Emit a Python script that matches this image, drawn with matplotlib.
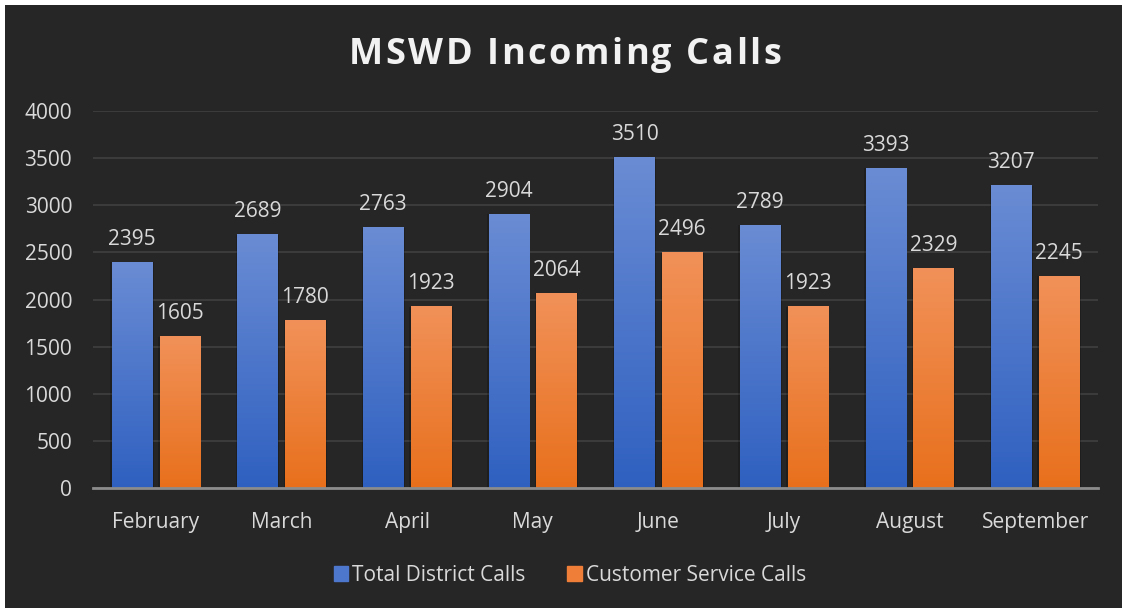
import numpy as np
import matplotlib
matplotlib.use('Agg')
from matplotlib import pyplot as plt
from matplotlib.patches import Rectangle, Patch

months = ['February', 'March', 'April', 'May', 'June', 'July', 'August', 'September']
total_calls = [2395, 2689, 2763, 2904, 3510, 2789, 3393, 3207]
service_calls = [1605, 1780, 1923, 2064, 2496, 1923, 2329, 2245]
yticks = [0, 500, 1000, 1500, 2000, 2500, 3000, 3500, 4000]
title = 'MSWD Incoming Calls'

plt.rcParams['font.family'] = ['Open Sans', 'DejaVu Sans']

bg = '#262626'
txt = '#d9d9d9'
blue_top, blue_bot = '#6a8cd4', '#2f60c0'
orange_top, orange_bot = '#f19159', '#e8701c'

fig = plt.figure(figsize=(11.22, 6.08), dpi=100, facecolor='white')
# dark chart panel with thin white margin top/left
fig.patches.append(Rectangle((5 / 1122, 0), 1, 1 - 5 / 608, transform=fig.transFigure,
                             facecolor=bg, edgecolor='none', zorder=-10))

ax = fig.add_axes([93 / 1122, 120 / 608, 1005 / 1122, 377 / 608])
ax.patch.set_alpha(0)

width = 0.32
offset = 0.19


def grad_bar(x, h, top, bot):
    c1 = np.array(matplotlib.colors.to_rgb(top))
    c2 = np.array(matplotlib.colors.to_rgb(bot))
    t = np.linspace(0, 1, 256)[:, None]
    img = (c1 * (1 - t) + c2 * t)[:, None, :]
    img = np.repeat(img, 2, axis=1)
    # soft shadow behind the bar
    ax.bar(x, h, width + 0.025, color='black', alpha=0.2, zorder=2)
    ax.imshow(img, extent=(x - width / 2, x + width / 2, 0, h), aspect='auto',
              origin='upper', zorder=3, interpolation='bilinear')


xs = np.arange(len(months))
for i in xs:
    grad_bar(i - offset, total_calls[i], blue_top, blue_bot)
    grad_bar(i + offset, service_calls[i], orange_top, orange_bot)
    ax.annotate(str(total_calls[i]), (i - offset, total_calls[i]), xytext=(0, 9),
                textcoords='offset points', ha='center', va='bottom', color=txt, fontsize=15)
    ax.annotate(str(service_calls[i]), (i + offset, service_calls[i]), xytext=(0, 9),
                textcoords='offset points', ha='center', va='bottom', color=txt, fontsize=15)

ax.set_xlim(-0.5, len(months) - 0.5)
ax.set_ylim(0, 4000)
ax.set_yticks(yticks)
ax.set_xticks(xs)
ax.set_xticklabels(months)
ax.tick_params(axis='both', length=0, colors=txt, labelsize=15)
ax.tick_params(axis='x', pad=17)
ax.tick_params(axis='y', pad=15)
ax.grid(axis='y', color='#404040', linewidth=1.2, zorder=0)
ax.set_axisbelow(True)
for s in ['top', 'right', 'left']:
    ax.spines[s].set_visible(False)
ax.spines['bottom'].set_color('#8c8c8c')
ax.spines['bottom'].set_linewidth(2)
ax.spines['bottom'].set_zorder(4)

# letter-spaced title, placed char by char
renderer = fig.canvas.get_renderer()
spacing = 2.5
pieces = []
total_w = 0
for ch in title:
    t = fig.text(0, 0, ch, fontsize=26, fontweight='bold', color='#f2f2f2', va='center')
    w = t.get_window_extent(renderer).width
    if ch == ' ':
        w = 26 * 100 / 72 * 0.26
    pieces.append((t, w))
    total_w += w + spacing
total_w -= spacing
x = 565 - total_w / 2
for t, w in pieces:
    t.set_position((x / 1122, 1 - 55 / 608))
    x += w + spacing

handles = [Patch(color='#4d77cc', label='Total District Calls'),
           Patch(color='#ee7e38', label='Customer Service Calls')]
fig.legend(handles=handles, loc='center', bbox_to_anchor=(0.508, 0.054), ncol=2,
           frameon=False, fontsize=15, labelcolor=txt, handlelength=0.7, handleheight=0.7,
           handletextpad=0.2, columnspacing=2.0)

plt.savefig('out.png', dpi=100, facecolor=fig.get_facecolor())
